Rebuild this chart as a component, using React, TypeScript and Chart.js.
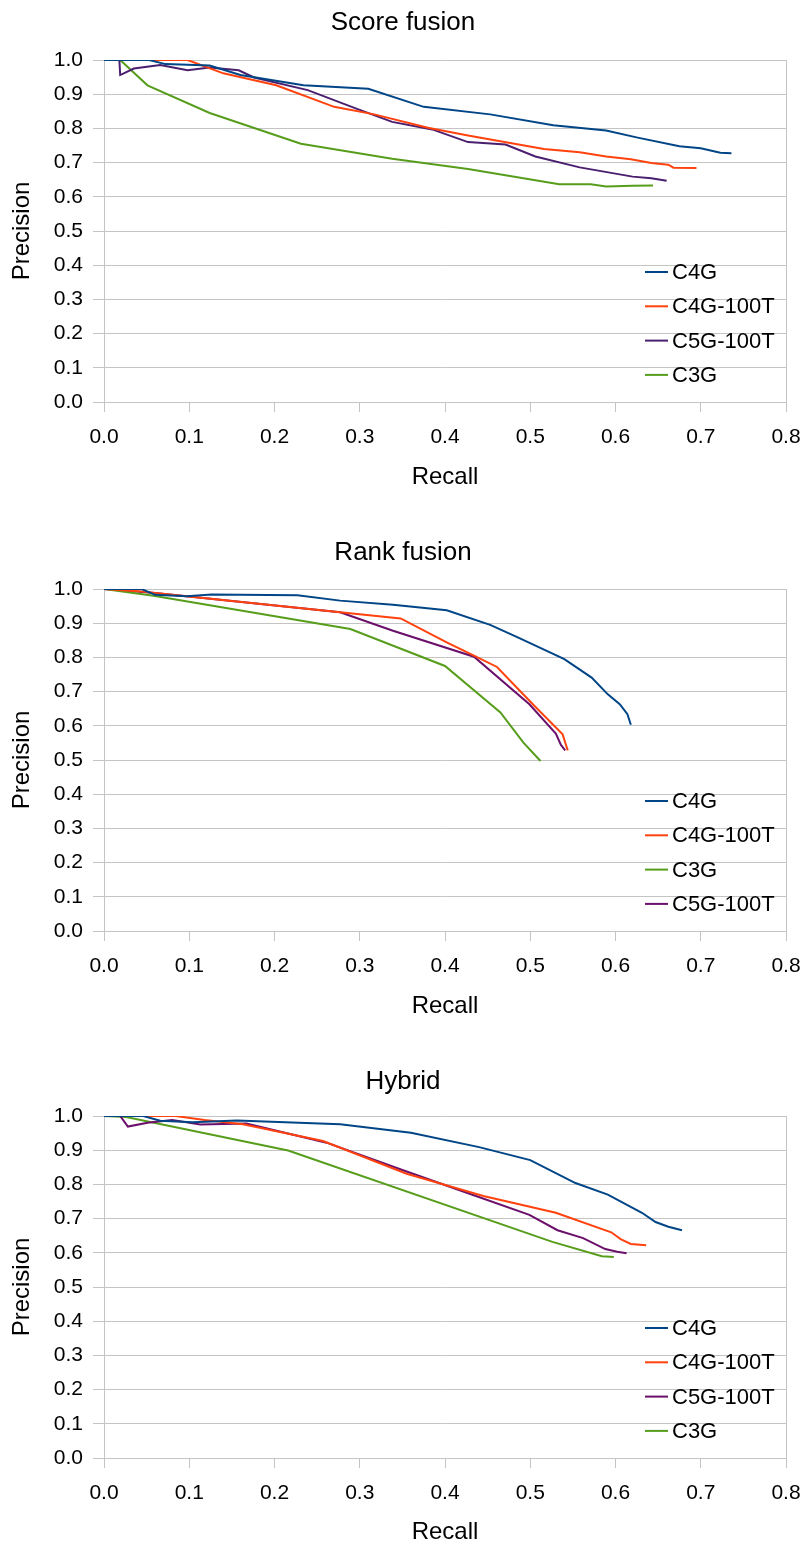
import React, { useEffect, useRef } from 'react';
import { Chart, registerables } from 'chart.js';
Chart.register(...registerables);

const FONT = '"Liberation Sans", Arial, sans-serif';
const BLUE = '#004586';
const ORANGE = '#ff420e';
const GREEN = '#579d1c';
const PURPLE1 = '#4b1f6f';
const PURPLE2 = '#6a0f6a';
const GRID = '#c4c4c4';

const recallTickLabels = ['0.0', '0.1', '0.2', '0.3', '0.4', '0.5', '0.6', '0.7', '0.8'];
const precisionTickLabels = ['0.0', '0.1', '0.2', '0.3', '0.4', '0.5', '0.6', '0.7', '0.8', '0.9', '1.0'];

// Score fusion
const scoreC4G_R = [0, 0.053, 0.072, 0.124, 0.16, 0.234, 0.31, 0.375, 0.453, 0.527, 0.589, 0.626, 0.675, 0.70, 0.723, 0.736];
const scoreC4G_P = [1.0, 1.0, 0.988, 0.984, 0.956, 0.926, 0.916, 0.863, 0.841, 0.809, 0.794, 0.773, 0.748, 0.742, 0.729, 0.727];
const scoreC4G100T_R = [0, 0.098, 0.14, 0.202, 0.27, 0.317, 0.38, 0.427, 0.516, 0.558, 0.589, 0.618, 0.642, 0.662, 0.668, 0.695];
const scoreC4G100T_P = [1.0, 1.0, 0.961, 0.926, 0.863, 0.841, 0.802, 0.779, 0.74, 0.73, 0.718, 0.71, 0.699, 0.694, 0.685, 0.684];
const scoreC5G100T_R = [0, 0.018, 0.019, 0.035, 0.066, 0.098, 0.124, 0.158, 0.176, 0.239, 0.296, 0.338, 0.385, 0.427, 0.471, 0.506, 0.558, 0.62, 0.642, 0.66];
const scoreC5G100T_P = [1.0, 1.0, 0.956, 0.975, 0.985, 0.97, 0.978, 0.97, 0.949, 0.912, 0.858, 0.819, 0.797, 0.76, 0.753, 0.718, 0.686, 0.659, 0.654, 0.647];
const scoreC3G_R = [0, 0.019, 0.051, 0.124, 0.231, 0.338, 0.427, 0.534, 0.571, 0.589, 0.62, 0.644];
const scoreC3G_P = [1.0, 1.0, 0.926, 0.845, 0.755, 0.711, 0.681, 0.637, 0.637, 0.63, 0.632, 0.633];

// Rank fusion
const rankC4G_R = [0, 0.044, 0.06, 0.097, 0.126, 0.227, 0.277, 0.339, 0.402, 0.453, 0.486, 0.54, 0.572, 0.591, 0.605, 0.614, 0.618];
const rankC4G_P = [1.0, 1.0, 0.983, 0.979, 0.984, 0.982, 0.966, 0.954, 0.938, 0.895, 0.858, 0.795, 0.741, 0.692, 0.663, 0.634, 0.603];
const rankC4G100T_R = [0, 0.044, 0.06, 0.277, 0.348, 0.402, 0.434, 0.461, 0.503, 0.538, 0.541, 0.544];
const rankC4G100T_P = [1.0, 0.993, 0.988, 0.932, 0.914, 0.844, 0.805, 0.772, 0.663, 0.575, 0.551, 0.528];
const rankC3G_R = [0, 0.058, 0.289, 0.4, 0.465, 0.492, 0.512];
const rankC3G_P = [1.0, 0.98, 0.883, 0.775, 0.639, 0.551, 0.497];
const rankC5G100T_R = [0, 0.06, 0.277, 0.339, 0.434, 0.499, 0.53, 0.536, 0.541];
const rankC5G100T_P = [1.0, 0.988, 0.932, 0.878, 0.802, 0.663, 0.577, 0.544, 0.528];

// Hybrid
const hybC4G_R = [0, 0.046, 0.066, 0.104, 0.156, 0.277, 0.36, 0.44, 0.50, 0.553, 0.591, 0.631, 0.647, 0.662, 0.678];
const hybC4G_P = [1.0, 1.0, 0.986, 0.982, 0.987, 0.976, 0.951, 0.909, 0.871, 0.804, 0.77, 0.717, 0.69, 0.676, 0.666];
const hybC4G100T_R = [0, 0.084, 0.118, 0.163, 0.257, 0.355, 0.445, 0.53, 0.595, 0.606, 0.618, 0.636];
const hybC4G100T_P = [1.0, 1.0, 0.988, 0.976, 0.927, 0.831, 0.766, 0.717, 0.66, 0.64, 0.626, 0.622];
const hybC5G100T_R = [0, 0.019, 0.028, 0.051, 0.08, 0.113, 0.167, 0.261, 0.35, 0.418, 0.499, 0.532, 0.562, 0.588, 0.602, 0.613];
const hybC5G100T_P = [1.0, 1.0, 0.969, 0.98, 0.988, 0.975, 0.978, 0.922, 0.842, 0.782, 0.711, 0.666, 0.643, 0.611, 0.603, 0.599];
const hybC3G_R = [0, 0.026, 0.216, 0.526, 0.584, 0.598];
const hybC3G_P = [1.0, 0.997, 0.899, 0.632, 0.59, 0.588];

type Series = { label: string; color: string; r: number[]; p: number[] };

const pts = (r: number[], p: number[]) => r.map((x, i) => ({ x, y: p[i] }));

interface PanelCfg {
  title: string;
  top: number;
  height: number;
  plotTop: number;
  plotBottom: number;
  titleY: number;
  xTitleY: number;
  series: Series[];
}

const W = 806;
const PLOT_LEFT = 104;
const PLOT_RIGHT = 786;

const panels: PanelCfg[] = [
  {
    title: 'Score fusion', top: 0, height: 515, plotTop: 60, plotBottom: 402, titleY: 23, xTitleY: 477,
    series: [
      { label: 'C4G', color: BLUE, r: scoreC4G_R, p: scoreC4G_P },
      { label: 'C4G-100T', color: ORANGE, r: scoreC4G100T_R, p: scoreC4G100T_P },
      { label: 'C5G-100T', color: PURPLE1, r: scoreC5G100T_R, p: scoreC5G100T_P },
      { label: 'C3G', color: GREEN, r: scoreC3G_R, p: scoreC3G_P },
    ],
  },
  {
    title: 'Rank fusion', top: 530, height: 515, plotTop: 59, plotBottom: 401, titleY: 23, xTitleY: 476,
    series: [
      { label: 'C4G', color: BLUE, r: rankC4G_R, p: rankC4G_P },
      { label: 'C4G-100T', color: ORANGE, r: rankC4G100T_R, p: rankC4G100T_P },
      { label: 'C3G', color: GREEN, r: rankC3G_R, p: rankC3G_P },
      { label: 'C5G-100T', color: PURPLE2, r: rankC5G100T_R, p: rankC5G100T_P },
    ],
  },
  {
    title: 'Hybrid', top: 1058, height: 486, plotTop: 58, plotBottom: 400, titleY: 24, xTitleY: 474,
    series: [
      { label: 'C4G', color: BLUE, r: hybC4G_R, p: hybC4G_P },
      { label: 'C4G-100T', color: ORANGE, r: hybC4G100T_R, p: hybC4G100T_P },
      { label: 'C5G-100T', color: PURPLE2, r: hybC5G100T_R, p: hybC5G100T_P },
      { label: 'C3G', color: GREEN, r: hybC3G_R, p: hybC3G_P },
    ],
  },
];

function Panel({ cfg }: { cfg: PanelCfg }) {
  const ref = useRef<HTMLCanvasElement | null>(null);
  useEffect(() => {
    if (!ref.current) return;
    const titleFont = 26;
    const axisTitleFont = 24;
    const lh = axisTitleFont * 1.2;
    const overlay = {
      id: 'overlay',
      afterDraw(chart: any) {
        const ctx = chart.ctx;
        const area = chart.chartArea;
        ctx.save();
        ctx.fillStyle = '#000';
        ctx.textAlign = 'center';
        ctx.textBaseline = 'middle';
        ctx.font = `${titleFont}px ${FONT}`;
        ctx.fillText(cfg.title, W / 2, cfg.titleY);
        ctx.font = `22px ${FONT}`;
        ctx.textAlign = 'left';
        cfg.series.forEach((s, i) => {
          const y = area.top + 212 + i * 34.3;
          ctx.strokeStyle = s.color;
          ctx.lineWidth = 2;
          ctx.beginPath();
          ctx.moveTo(645, y);
          ctx.lineTo(668, y);
          ctx.stroke();
          ctx.fillText(s.label, 672, y + 1);
        });
        ctx.restore();
      },
    };
    const chart = new Chart(ref.current, {
      type: 'line',
      data: {
        datasets: cfg.series.map((s) => ({
          label: s.label,
          data: pts(s.r, s.p),
          borderColor: s.color,
          backgroundColor: s.color,
          borderWidth: 2,
          pointRadius: 0,
          tension: 0,
          fill: false,
        })),
      },
      options: {
        animation: false,
        responsive: false,
        parsing: false as any,
        layout: { padding: { top: cfg.plotTop, left: 0, right: W - PLOT_RIGHT, bottom: 0 } },
        plugins: { legend: { display: false }, title: { display: false }, tooltip: { enabled: false } },
        scales: {
          x: {
            type: 'linear',
            min: 0,
            max: 0.8,
            afterFit: (scale: any) => {
              scale.height = cfg.height - cfg.plotBottom;
              scale.paddingLeft = 0;
              scale.paddingRight = 0;
            },
            ticks: {
              stepSize: 0.1,
              color: '#000',
              padding: 13,
              font: { family: FONT, size: 21 },
              maxRotation: 0,
              autoSkip: false,
              callback: (v: any) => recallTickLabels[Math.round(Number(v) * 10)],
            },
            grid: {
              color: (c: any) => (c.index === recallTickLabels.length - 1 ? GRID : 'rgba(0,0,0,0)'),
              tickColor: GRID,
              tickLength: 10,
              lineWidth: 1,
            },
            border: { display: true, color: GRID },
            title: {
              display: true,
              text: 'Recall',
              color: '#000',
              font: { family: FONT, size: axisTitleFont },
              padding: { top: 0, bottom: cfg.height - lh / 2 - cfg.xTitleY },
            },
          },
          y: {
            type: 'linear',
            min: 0,
            max: 1,
            afterFit: (scale: any) => {
              scale.width = PLOT_LEFT;
              scale.paddingTop = 0;
              scale.paddingBottom = 0;
            },
            ticks: {
              stepSize: 0.1,
              color: '#000',
              padding: 10,
              font: { family: FONT, size: 21 },
              autoSkip: false,
              callback: (v: any) => precisionTickLabels[Math.round(Number(v) * 10)],
            },
            grid: { color: GRID, tickColor: GRID, tickLength: 11, lineWidth: 1 },
            border: { display: true, color: GRID },
            title: {
              display: true,
              text: 'Precision',
              color: '#000',
              font: { family: FONT, size: axisTitleFont },
              padding: { top: 22.5 - lh / 2, bottom: 0 },
            },
          },
        },
      } as any,
      plugins: [overlay],
    });
    return () => chart.destroy();
  }, [cfg]);
  return (
    <canvas
      ref={ref}
      width={W}
      height={cfg.height}
      style={{ position: 'absolute', left: 0, top: cfg.top, width: W, height: cfg.height }}
    />
  );
}

export default function App() {
  return (
    <div style={{ position: 'absolute', left: 0, top: 0, width: W, height: 1544, background: '#fff' }}>
      {panels.map((p) => (
        <Panel key={p.title} cfg={p} />
      ))}
    </div>
  );
}
